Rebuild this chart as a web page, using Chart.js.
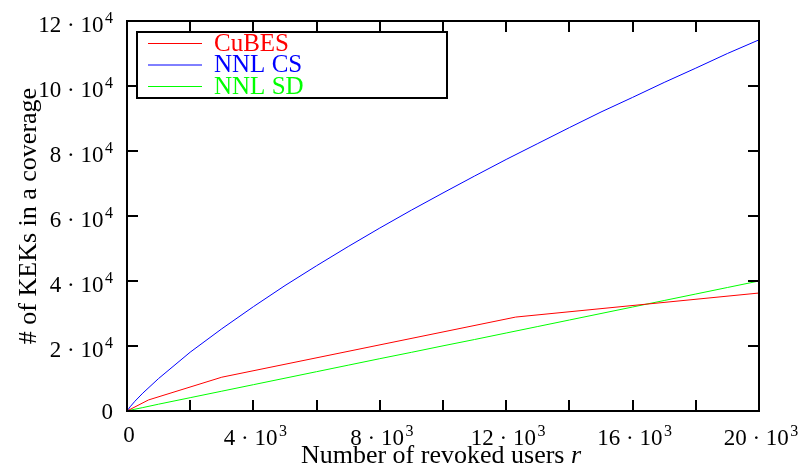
<!DOCTYPE html>
<html>
<head>
<meta charset="utf-8">
<script src="https://cdn.jsdelivr.net/npm/chart.js@4.4.0/dist/chart.umd.min.js"></script>
<style>
  html, body { margin: 0; padding: 0; background: #fff; }
  canvas { display: block; }
</style>
</head>
<body>
<canvas id="chart" width="803" height="466"></canvas>
<script>
const seriesNames = ['CuBES', 'NNL CS', 'NNL SD'];
const seriesColors = ['#ff0000', '#0000ff', '#00ff00'];

// CuBES is piecewise linear, only its corners are listed
const cubesR = [0, 680, 3000, 12300, 20000];
const cubesKeks = [0, 3400, 10400, 28900, 36300];

const nnlR = [0, 100, 250, 500, 1000, 2000, 3000, 4000, 5000, 6000, 7000, 8000, 9000, 10000,
  11000, 12000, 13000, 14000, 15000, 16000, 17000, 18000, 19000, 20000];
const nnlCsKeks = [0, 1300, 3000, 5500, 10000, 18100, 25300, 32100, 38600, 44700, 50600, 56300, 61800, 67100,
  72300, 77400, 82300, 87200, 92000, 96500, 101100, 105500, 110000, 114200];
const nnlSdKeks = [0, 250, 550, 1050, 2100, 4100, 6100, 8100, 10100, 12100, 14100, 16100, 18050, 20050,
  22000, 24000, 26000, 28000, 30000, 32000, 34000, 36000, 38000, 40000];

const xMax = 20000, xStep = 2000, xLabelEvery = 4000, xExp = 3;
const yMax = 120000, yStep = 20000, yExp = 4;

const serif = '"Liberation Serif", "Times New Roman", serif';

function toPoints(xs, ys) {
  return xs.map((x, i) => ({ x, y: ys[i] }));
}

// "m · 10" with a raised exponent; returns nothing, draws at (x, base)
function drawPow(ctx, mant, exp, x, base, align) {
  ctx.textAlign = 'left';
  ctx.textBaseline = 'alphabetic';
  ctx.font = '23px ' + serif;
  const main = exp === null ? mant : mant + ' · 10';
  const wm = ctx.measureText(main).width;
  ctx.font = '16px ' + serif;
  const we = exp === null ? 0 : ctx.measureText(String(exp)).width + 1.5;
  const w = wm + we;
  let x0 = x;
  if (align === 'right') x0 = x - w;
  if (align === 'center') x0 = x - w / 2;
  ctx.font = '23px ' + serif;
  ctx.fillText(main, x0, base);
  if (exp !== null) {
    ctx.font = '16px ' + serif;
    ctx.fillText(String(exp), x0 + wm + 1.5, base - 9);
  }
}

// box, inward ticks on all four sides, tick labels, axis titles and the boxed legend
const framePlugin = {
  id: 'frame',
  afterDatasetsDraw(chart) {
    const { ctx, chartArea: a, scales } = chart;
    const tl = 11;
    ctx.save();
    ctx.strokeStyle = '#000';
    ctx.lineWidth = 2;
    ctx.strokeRect(a.left, a.top, a.right - a.left, a.bottom - a.top);
    ctx.beginPath();
    scales.x.ticks.forEach((t) => {
      const px = Math.round(scales.x.getPixelForValue(t.value));
      ctx.moveTo(px, a.bottom); ctx.lineTo(px, a.bottom - tl);
      ctx.moveTo(px, a.top); ctx.lineTo(px, a.top + tl);
    });
    scales.y.ticks.forEach((t) => {
      const py = Math.round(scales.y.getPixelForValue(t.value));
      ctx.moveTo(a.left, py); ctx.lineTo(a.left + tl, py);
      ctx.moveTo(a.right, py); ctx.lineTo(a.right - tl, py);
    });
    ctx.stroke();

    ctx.fillStyle = '#000';
    scales.x.ticks.forEach((t) => {
      const v = t.value;
      if (v % xLabelEvery !== 0) return;
      const px = scales.x.getPixelForValue(v);
      if (v === 0) drawPow(ctx, '0', null, px + 2, a.bottom + 31, 'center');
      else drawPow(ctx, String(v / 10 ** xExp), xExp, px + 2, a.bottom + 34, 'center');
    });
    scales.y.ticks.forEach((t) => {
      const v = t.value;
      const py = scales.y.getPixelForValue(v);
      if (v === 0) drawPow(ctx, '0', null, 113, py + 8, 'right');
      else drawPow(ctx, String(v / 10 ** yExp), yExp, 113, py + 10.5, 'right');
    });

    // axis titles
    ctx.textBaseline = 'middle';
    const main = 'Number of revoked users ';
    ctx.font = 'italic 26px ' + serif;
    const wr = ctx.measureText('r').width;
    ctx.font = '26px ' + serif;
    const wm = ctx.measureText(main).width;
    const x0 = 441 - (wm + wr) / 2;
    ctx.textAlign = 'left';
    ctx.fillText(main, x0, 456);
    ctx.font = 'italic 26px ' + serif;
    ctx.fillText('r', x0 + wm, 456);

    ctx.save();
    ctx.translate(36, 216);
    ctx.rotate(-Math.PI / 2);
    ctx.font = '26px ' + serif;
    ctx.textAlign = 'center';
    ctx.textBaseline = 'alphabetic';
    ctx.fillText('# of KEKs in a coverage', 0, 0);
    ctx.restore();

    // legend
    const lx = 137, ly = 32, lw = 310, lh = 66;
    ctx.fillStyle = '#fff';
    ctx.fillRect(lx, ly, lw, lh);
    ctx.strokeRect(lx, ly, lw, lh);
    const rows = [43, 64.5, 86];
    ctx.font = '25px ' + serif;
    ctx.textAlign = 'left';
    ctx.textBaseline = 'middle';
    chart.data.datasets.forEach((ds, i) => {
      ctx.strokeStyle = ds.borderColor;
      ctx.lineWidth = 1;
      ctx.beginPath();
      ctx.moveTo(148, rows[i] + 0.5);
      ctx.lineTo(202, rows[i] + 0.5);
      ctx.stroke();
      ctx.fillStyle = ds.borderColor;
      ctx.fillText(ds.label, 214, rows[i] + 1);
    });
    ctx.restore();
  },
};

new Chart(document.getElementById('chart'), {
  type: 'line',
  data: {
    datasets: [
      { label: seriesNames[0], data: toPoints(cubesR, cubesKeks), borderColor: seriesColors[0] },
      { label: seriesNames[1], data: toPoints(nnlR, nnlCsKeks), borderColor: seriesColors[1] },
      { label: seriesNames[2], data: toPoints(nnlR, nnlSdKeks), borderColor: seriesColors[2] },
    ],
  },
  plugins: [framePlugin],
  options: {
    responsive: false,
    animation: false,
    devicePixelRatio: 1,
    layout: { padding: { top: 21, right: 44, left: 0, bottom: 0 } },
    elements: {
      point: { radius: 0 },
      line: { borderWidth: 1, tension: 0 },
    },
    plugins: {
      legend: { display: false },
      tooltip: { enabled: false },
    },
    scales: {
      x: {
        type: 'linear',
        min: 0,
        max: xMax,
        border: { display: false },
        grid: { display: false, drawTicks: false },
        ticks: { stepSize: xStep, autoSkip: false, display: false },
        afterFit: (scale) => {
          scale.height = 55;
          scale.paddingLeft = 0;
          scale.paddingRight = 0;
        },
      },
      y: {
        min: 0,
        max: yMax,
        border: { display: false },
        grid: { display: false, drawTicks: false },
        ticks: { stepSize: yStep, display: false },
        afterFit: (scale) => {
          scale.width = 127;
          scale.paddingTop = 0;
          scale.paddingBottom = 0;
        },
      },
    },
  },
});
</script>
</body>
</html>
